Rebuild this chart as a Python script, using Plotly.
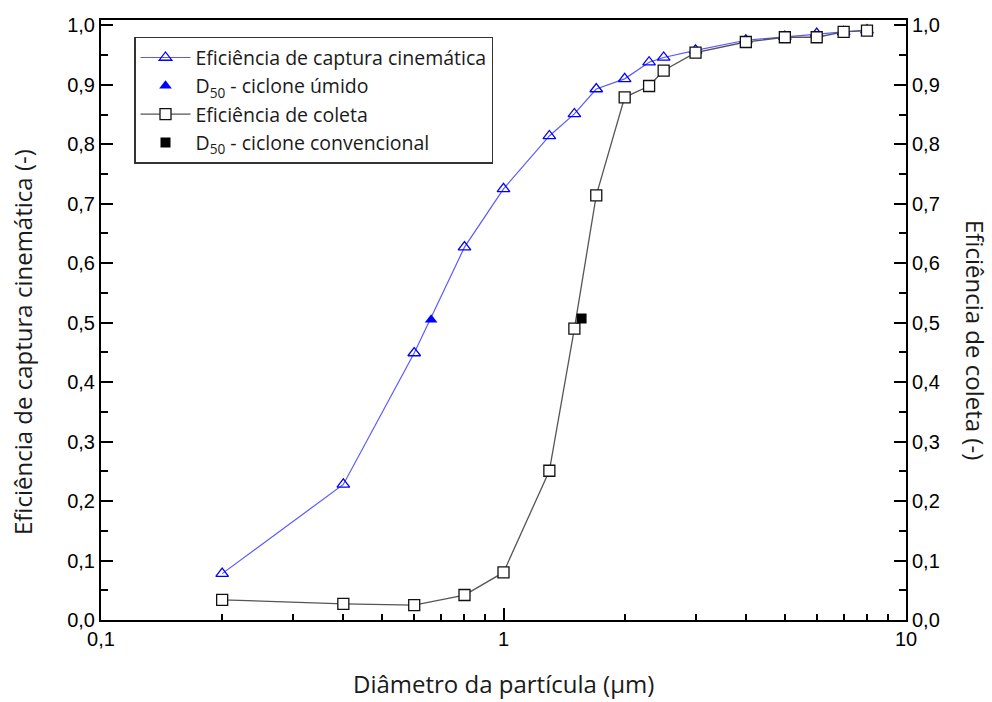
import plotly.graph_objects as go

# Particle diameter (um)
diam = [0.2, 0.4, 0.6, 0.8, 1.0, 1.3, 1.5, 1.7, 2.0, 2.3, 2.5, 3.0, 4.0, 5.0, 6.0, 7.0, 8.0]

# Kinematic capture efficiency (wet cyclone)
ef_captura = [0.078, 0.228, 0.449, 0.627, 0.725, 0.814, 0.851, 0.893, 0.910, 0.938,
              0.946, 0.958, 0.975, 0.981, 0.986, 0.989, 0.992]

# Collection efficiency (conventional cyclone)
ef_coleta = [0.034, 0.027, 0.025, 0.042, 0.080, 0.251, 0.490, 0.714, 0.879, 0.898,
             0.924, 0.954, 0.972, 0.980, 0.980, 0.989, 0.991]

# Cut diameters
d50_umido = [0.661]
d50_umido_ef = [0.505]
d50_conv = [1.563]
d50_conv_ef = [0.507]

y_ticks = [0.0, 0.1, 0.2, 0.3, 0.4, 0.5, 0.6, 0.7, 0.8, 0.9, 1.0]
y_minor = [0.05, 0.15, 0.25, 0.35, 0.45, 0.55, 0.65, 0.75, 0.85, 0.95]
x_ticks = [0.1, 1, 10]
x_ticktext = ["0,1", "1", "10"]
x_minor = [0.2, 0.3, 0.4, 0.5, 0.6, 0.7, 0.8, 0.9, 2, 3, 4, 5, 6, 7, 8, 9]

TITLE_FONT = "Open Sans"
TICK_FONT = "Liberation Sans"
TEXT_COLOR = "#1a1a1a"

fig = go.Figure()

fig.add_trace(go.Scatter(
    x=diam, y=ef_captura, mode="lines+markers",
    name="Eficiência de captura cinemática",
    line=dict(color="#5a5aff", width=1.2),
    marker=dict(symbol="triangle-up-open", size=11, color="#0000ff",
                line=dict(width=1.3, color="#0000ff")),
    yaxis="y",
))
fig.add_trace(go.Scatter(
    x=d50_umido, y=d50_umido_ef, mode="markers",
    name="D<sub>50</sub> - ciclone úmido",
    marker=dict(symbol="triangle-up", size=11, color="#0000ff"),
    yaxis="y",
))
fig.add_trace(go.Scatter(
    x=diam, y=ef_coleta, mode="lines+markers",
    name="Eficiência de coleta",
    line=dict(color="#555555", width=1.3),
    marker=dict(symbol="square", size=11, color="white",
                line=dict(width=1.3, color="#111111")),
    yaxis="y2",
))
fig.add_trace(go.Scatter(
    x=d50_conv, y=d50_conv_ef, mode="markers",
    name="D<sub>50</sub> - ciclone convencional",
    marker=dict(symbol="square", size=10, color="black"),
    yaxis="y2",
))

y_range = [0, 1.009]
axis_common = dict(
    showgrid=False, zeroline=False, automargin=False,
    showline=True, linecolor="black", linewidth=2,
    ticks="inside", ticklen=12, tickwidth=2, tickcolor="black",
    tickfont=dict(family=TICK_FONT, size=20, color="black"),
)
minor_y = dict(tickmode="array", tickvals=y_minor, ticks="inside",
               ticklen=7, tickwidth=2, tickcolor="black")

fig.update_layout(
    width=992, height=702,
    margin=dict(l=101, r=86, t=20, b=82, autoexpand=False),
    plot_bgcolor="white", paper_bgcolor="white",
    separators=",.",
    showlegend=True,
    legend=dict(
        x=0.041, y=0.972, xanchor="left", yanchor="top",
        bgcolor="white", bordercolor="#333333", borderwidth=1.5,
        font=dict(family=TITLE_FONT, size=19.5, color=TEXT_COLOR),
        itemwidth=50,
        tracegroupgap=0,
    ),
    xaxis=dict(
        type="log", range=[-1, 1],
        tickmode="array", tickvals=x_ticks, ticktext=x_ticktext,
        minor=dict(tickmode="array", tickvals=x_minor, ticks="inside",
                   ticklen=6, tickwidth=2, tickcolor="black"),
        mirror=True,
        **axis_common,
    ),
    yaxis=dict(
        range=y_range,
        tickmode="array", tickvals=y_ticks, tickformat=".1f",
        minor=minor_y,
        **axis_common,
    ),
    yaxis2=dict(
        range=y_range, overlaying="y", side="right",
        tickmode="array", tickvals=y_ticks, tickformat=".1f",
        minor=minor_y,
        **axis_common,
    ),
)

title_font = dict(family=TITLE_FONT, size=24, color=TEXT_COLOR)

# Bottom axis title
fig.add_annotation(
    text="Diâmetro da partícula (µm)",
    xref="paper", yref="paper", x=0.5, y=0.0,
    xanchor="center", yanchor="middle", yshift=-63,
    showarrow=False, font=title_font,
)

# Left-hand axis title, reading bottom to top
fig.add_annotation(
    text="Eficiência de captura cinemática (-)", textangle=-90,
    xref="paper", yref="paper", x=0.0, y=0.5,
    xanchor="center", yanchor="middle", xshift=-79, yshift=-22,
    showarrow=False, font=title_font,
)

# Right-hand axis title, reading top to bottom
fig.add_annotation(
    text="Eficiência de coleta (-)", textangle=90,
    xref="paper", yref="paper", x=1.0, y=0.5,
    xanchor="center", yanchor="middle", xshift=70, yshift=-20,
    showarrow=False, font=title_font,
)

fig.write_html("out.html")
